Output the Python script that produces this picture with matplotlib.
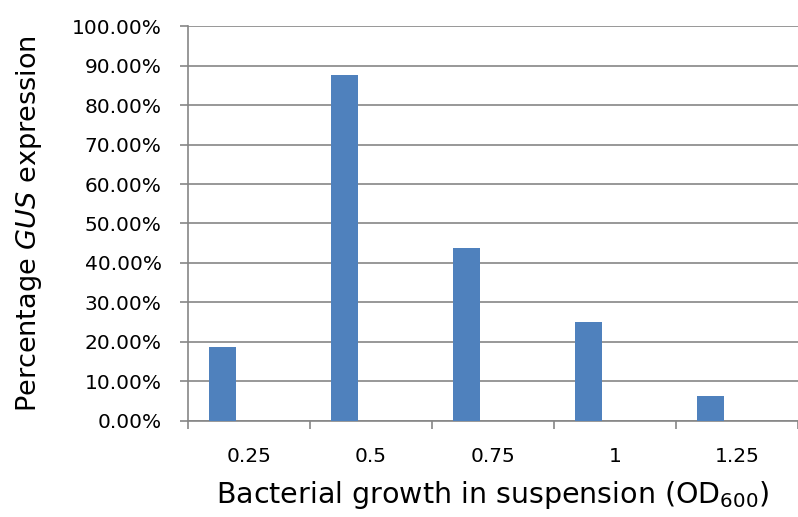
import numpy as np
import matplotlib
matplotlib.use("Agg")
import matplotlib.pyplot as plt
from matplotlib.ticker import FixedLocator, NullFormatter

# data
categories = ["0.25", "0.5", "0.75", "1", "1.25"]
gus_pct = [18.75, 87.5, 43.75, 25.0, 6.25]

plt.rcParams["font.family"] = ["DejaVu Sans"]
plt.rcParams["mathtext.fontset"] = "dejavusans"

fig = plt.figure(figsize=(7.98, 5.17), dpi=100)
ax = fig.add_axes([0.2356, 0.1857, 0.7644, 0.764])

grey = "#868686"
x = np.arange(len(categories))
# excel-style clustered bar with an empty second series -> bar sits left of centre
ax.bar(x - 0.22, gus_pct, width=0.22, color="#4F81BD", zorder=3)

ax.set_xlim(-0.5, len(categories) - 0.5)
ax.set_ylim(0, 100)
ax.set_yticks(np.arange(0, 101, 10))
ax.set_yticklabels(["%.2f%%" % v for v in np.arange(0, 101, 10)], fontsize=14.5)
ax.yaxis.grid(True, color=grey, linewidth=1.2, zorder=0)

# category labels at centres, tick marks at the boundaries
ax.set_xticks(x)
ax.set_xticklabels(categories, fontsize=14.5)
ax.tick_params(axis="x", which="major", length=0, pad=19)
ax.xaxis.set_minor_locator(FixedLocator(np.arange(-0.5, len(categories), 1.0)))
ax.xaxis.set_minor_formatter(NullFormatter())
ax.tick_params(axis="x", which="minor", length=6, color=grey, width=1.2)
ax.tick_params(axis="y", length=6, color=grey, width=1.2, pad=13)

for s in ["top", "right"]:
    ax.spines[s].set_visible(False)
for s in ["left", "bottom"]:
    ax.spines[s].set_color(grey)
    ax.spines[s].set_linewidth(1.2)

ax.set_xlabel("Bacterial growth in suspension (OD$_{600}$)", fontsize=20.5, labelpad=9)
ax.set_ylabel("Percentage $\\mathit{GUS}$ expression", fontsize=19.5, labelpad=20)

fig.savefig("out.png", dpi=100)
